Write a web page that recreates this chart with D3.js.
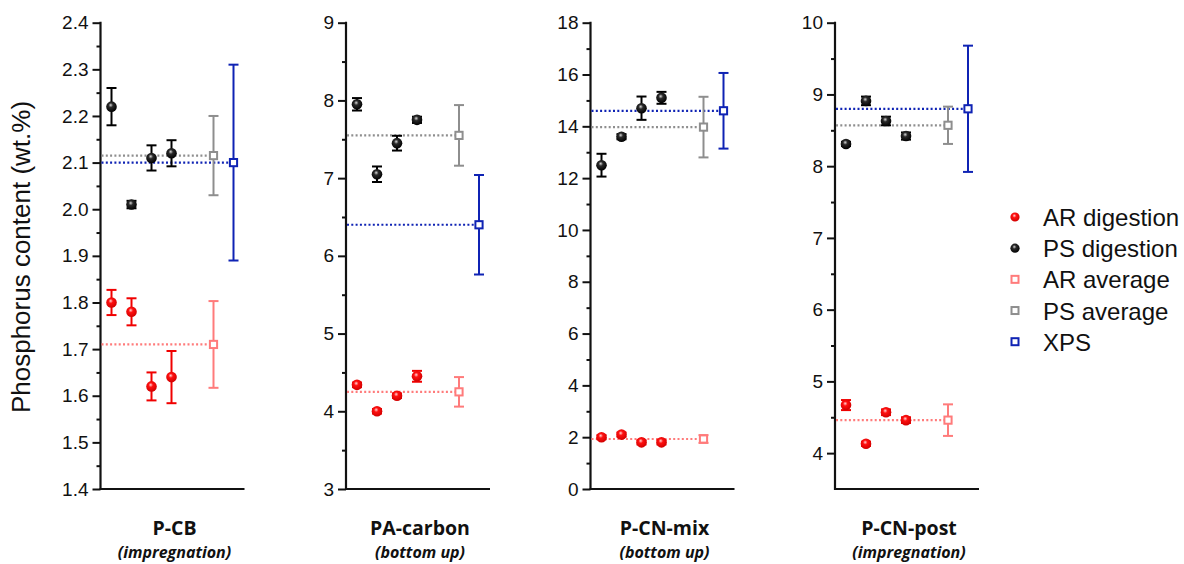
<!DOCTYPE html>
<html>
<head>
<meta charset="utf-8">
<script src="https://cdn.jsdelivr.net/npm/d3@7"></script>
<style>
  html, body { margin: 0; padding: 0; background: #fff; }
  svg { display: block; }
</style>
</head>
<body>
<svg id="chart" width="1184" height="564"></svg>
<script>
// ---------------- DATA ----------------
const panelNames = ["P-CB", "PA-carbon", "P-CN-mix", "P-CN-post"];
const panelSubtitles = ["(impregnation)", "(bottom up)", "(bottom up)", "(impregnation)"];

// x slots: 4 digestion replicates, then the averages slot, then the XPS slot
const replicateSlots = [1, 2, 3, 4];
const averageSlot = 6.1;
const xpsSlot = 7.1;

const psValues = [[2.22, 2.01, 2.11, 2.12], [7.95, 7.05, 7.45, 7.75], [12.5, 13.6, 14.7, 15.1], [8.31, 8.91, 8.63, 8.42]];
const psErrors = [[0.04, 0.008, 0.027, 0.028], [0.08, 0.10, 0.095, 0.04], [0.44, 0.10, 0.45, 0.23], [0.03, 0.06, 0.06, 0.05]];
const arValues = [[1.80, 1.78, 1.62, 1.64], [4.34, 4.00, 4.20, 4.45], [2.0, 2.1, 1.8, 1.8], [4.67, 4.13, 4.57, 4.46]];
const arErrors = [[0.027, 0.029, 0.03, 0.056], [0.03, 0.03, 0.03, 0.07], [0.08, 0.08, 0.08, 0.08], [0.07, 0.03, 0.04, 0.04]];
const psAverage = [2.115, 7.55, 13.97, 8.57];
const psAverageErr = [0.085, 0.39, 1.17, 0.26];
const arAverage = [1.71, 4.25, 1.93, 4.46];
const arAverageErr = [0.093, 0.19, 0.15, 0.22];
const xpsValues = [2.10, 6.40, 14.6, 8.80];
const xpsErrors = [0.21, 0.64, 1.46, 0.88];

const yDomains = [[1.4, 2.4], [3, 9], [0, 18], [3.5, 10]];
const yMajorTicks = [
  [1.4, 1.5, 1.6, 1.7, 1.8, 1.9, 2.0, 2.1, 2.2, 2.3, 2.4],
  [3, 4, 5, 6, 7, 8, 9],
  [0, 2, 4, 6, 8, 10, 12, 14, 16, 18],
  [4, 5, 6, 7, 8, 9, 10]
];
const yTickLabels = [
  ["1.4", "1.5", "1.6", "1.7", "1.8", "1.9", "2.0", "2.1", "2.2", "2.3", "2.4"],
  ["3", "4", "5", "6", "7", "8", "9"],
  ["0", "2", "4", "6", "8", "10", "12", "14", "16", "18"],
  ["4", "5", "6", "7", "8", "9", "10"]
];
const yMinorTicks = [
  [1.45, 1.55, 1.65, 1.75, 1.85, 1.95, 2.05, 2.15, 2.25, 2.35],
  [3.5, 4.5, 5.5, 6.5, 7.5, 8.5],
  [1, 3, 5, 7, 9, 11, 13, 15, 17],
  [4.5, 5.5, 6.5, 7.5, 8.5, 9.5]
];

const yAxisTitle = "Phosphorus content (wt.%)";
const legendLabels = ["AR digestion", "PS digestion", "AR average", "PS average", "XPS"];

// ---------------- STYLE ----------------
const colAR = "#f00000";
const colPS = "#000000";
const colARavg = "#ff7b7b";
const colPSavg = "#8e8e8e";
const colXPS = "#0f23b4";
const font = "'Liberation Sans', Arial, sans-serif";

const panelLeft = [100.5, 346, 590.5, 835];
const panelWidth = 144;
const yTop = 22.7, yBot = 489;

const svg = d3.select("#chart");
const defs = svg.append("defs");
function sphereGrad(id, c0, c1, c2) {
  const g = defs.append("radialGradient").attr("id", id)
    .attr("cx", "45%").attr("cy", "40%").attr("r", "60%")
    .attr("fx", "42%").attr("fy", "35%");
  g.append("stop").attr("offset", "0%").attr("stop-color", c0);
  g.append("stop").attr("offset", "35%").attr("stop-color", c1);
  g.append("stop").attr("offset", "100%").attr("stop-color", c2);
}
sphereGrad("gRed", "#ffd6d6", "#ff1010", "#d00000");
sphereGrad("gBlack", "#d8d8d8", "#2a2a2a", "#000000");

panelNames.forEach((name, p) => {
  const x0 = panelLeft[p];
  const x = d3.scaleLinear().domain([0.45, 7.65]).range([x0, x0 + panelWidth]);
  const y = d3.scaleLinear().domain(yDomains[p]).range([yBot, yTop]);
  const g = svg.append("g");

  // y axis (major with labels)
  const axisMajor = d3.axisLeft(y).tickValues(yMajorTicks[p])
    .tickFormat((d, i) => yTickLabels[p][i]).tickSize(8).tickPadding(4);
  const ga = g.append("g").attr("transform", `translate(${x0},0)`).call(axisMajor);
  ga.select(".domain").remove();
  ga.selectAll(".tick line").attr("stroke", "#111").attr("stroke-width", 2);
  ga.selectAll(".tick text").attr("font-family", font).attr("font-size", 19).attr("fill", "#111");

  const axisMinor = d3.axisLeft(y).tickValues(yMinorTicks[p]).tickFormat("").tickSize(4);
  const gm = g.append("g").attr("transform", `translate(${x0},0)`).call(axisMinor);
  gm.select(".domain").remove();
  gm.selectAll(".tick line").attr("stroke", "#111").attr("stroke-width", 2);

  // axis lines
  g.append("line").attr("x1", x0).attr("x2", x0).attr("y1", yTop - 1).attr("y2", yBot + 1)
    .attr("stroke", "#111").attr("stroke-width", 2.2);
  g.append("line").attr("x1", x0 - 1).attr("x2", x0 + panelWidth).attr("y1", yBot).attr("y2", yBot)
    .attr("stroke", "#111").attr("stroke-width", 2.2);

  // dotted reference lines
  const refs = [
    { v: psAverage[p], c: colPSavg, end: averageSlot },
    { v: arAverage[p], c: colARavg, end: averageSlot },
    { v: xpsValues[p], c: colXPS, end: xpsSlot }
  ];
  g.selectAll(".ref").data(refs).enter().append("line")
    .attr("x1", x0 + 1).attr("x2", d => x(d.end))
    .attr("y1", d => y(d.v)).attr("y2", d => y(d.v))
    .attr("stroke", d => d.c).attr("stroke-width", 2.2)
    .attr("stroke-dasharray", "2,2.3");

  // error bars
  const errs = [];
  replicateSlots.forEach((s, i) => {
    errs.push({ s, v: psValues[p][i], e: psErrors[p][i], c: colPS });
    errs.push({ s, v: arValues[p][i], e: arErrors[p][i], c: colAR });
  });
  errs.push({ s: averageSlot, v: psAverage[p], e: psAverageErr[p], c: colPSavg });
  errs.push({ s: averageSlot, v: arAverage[p], e: arAverageErr[p], c: colARavg });
  errs.push({ s: xpsSlot, v: xpsValues[p], e: xpsErrors[p], c: colXPS });
  const cap = 5;
  errs.forEach(d => {
    const cx = x(d.s), yt = y(d.v + d.e), yb = y(d.v - d.e);
    g.append("line").attr("x1", cx).attr("x2", cx).attr("y1", yt).attr("y2", yb)
      .attr("stroke", d.c).attr("stroke-width", 2);
    [yt, yb].forEach(yy => g.append("line").attr("x1", cx - cap).attr("x2", cx + cap)
      .attr("y1", yy).attr("y2", yy).attr("stroke", d.c).attr("stroke-width", 2));
  });

  // replicate markers
  g.selectAll(".ps").data(psValues[p]).enter().append("circle")
    .attr("cx", (d, i) => x(replicateSlots[i])).attr("cy", d => y(d)).attr("r", 5.3)
    .attr("fill", "url(#gBlack)");
  g.selectAll(".ar").data(arValues[p]).enter().append("circle")
    .attr("cx", (d, i) => x(replicateSlots[i])).attr("cy", d => y(d)).attr("r", 5.3)
    .attr("fill", "url(#gRed)");

  // average / xps squares
  const sq = [
    { s: averageSlot, v: psAverage[p], c: colPSavg },
    { s: averageSlot, v: arAverage[p], c: colARavg },
    { s: xpsSlot, v: xpsValues[p], c: colXPS }
  ];
  const half = 3.6;
  g.selectAll(".sq").data(sq).enter().append("rect")
    .attr("x", d => x(d.s) - half).attr("y", d => y(d.v) - half)
    .attr("width", half * 2).attr("height", half * 2)
    .attr("fill", "#fff").attr("stroke", d => d.c).attr("stroke-width", 2);

  // panel labels
  const cxp = x0 + panelWidth / 2 + 2;
  g.append("text").attr("x", cxp).attr("y", 535).attr("text-anchor", "middle")
    .attr("font-family", "'Open Sans', sans-serif").attr("font-weight", 700).attr("font-size", 19.5)
    .attr("fill", "#111").text(name);
  g.append("text").attr("x", cxp).attr("y", 558).attr("text-anchor", "middle")
    .attr("font-family", "'Open Sans', sans-serif").attr("font-weight", 700).attr("font-style", "italic")
    .attr("font-size", 16).attr("fill", "#111").text(panelSubtitles[p]);
});

// y axis title
svg.append("text")
  .attr("transform", "translate(30,257) rotate(-90)")
  .attr("text-anchor", "middle")
  .attr("font-family", font).attr("font-size", 26).attr("fill", "#111")
  .text(yAxisTitle);

// legend
const lg = svg.append("g");
const legendY = d3.scaleLinear().domain([0, 4]).range([217, 341.7]);
legendLabels.forEach((lab, i) => {
  const yy = legendY(i);
  if (i === 0 || i === 1) {
    lg.append("circle").attr("cx", 1015).attr("cy", yy).attr("r", 4.6)
      .attr("fill", i === 0 ? "url(#gRed)" : "url(#gBlack)");
  } else {
    const c = [colARavg, colPSavg, colXPS][i - 2];
    lg.append("rect").attr("x", 1015 - 3.5).attr("y", yy - 3.5).attr("width", 7).attr("height", 7)
      .attr("fill", "#fff").attr("stroke", c).attr("stroke-width", 2);
  }
  lg.append("text").attr("x", 1043).attr("y", yy + 9).attr("font-family", font)
    .attr("font-size", 24).attr("fill", "#111").text(lab);
});
</script>
</body>
</html>
